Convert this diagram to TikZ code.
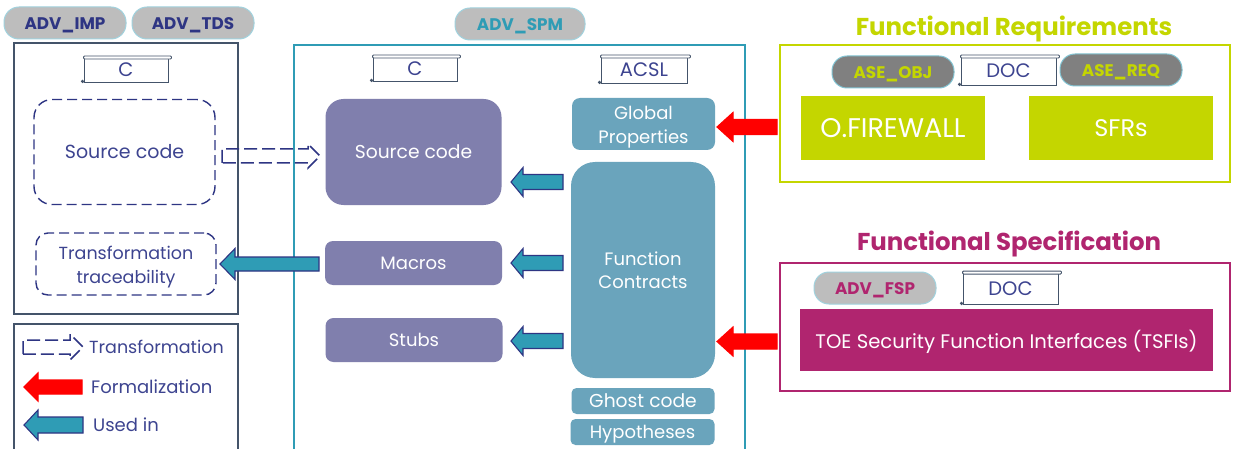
\documentclass[tikz,border=0pt]{standalone}
\usepackage{fontspec}
\setmainfont{Poppins}
\usetikzlibrary{calc}
\definecolor{navy}{HTML}{2E3583}
\definecolor{teal}{HTML}{2F9CB5}
\definecolor{purp}{HTML}{807FAD}
\definecolor{tealb}{HTML}{6AA4BC}
\definecolor{lime}{HTML}{C4D600}
\definecolor{magen}{HTML}{B0256F}
\definecolor{slate}{HTML}{44546A}
\definecolor{textb}{HTML}{3D4490}
\definecolor{pillg}{HTML}{BDBDBD}
\definecolor{pilld}{HTML}{808080}
\newcommand{\dn}[2]{\raisebox{-#1pt}[\height][\depth]{#2}}
\tikzset{
 x=1pt,y=-1pt,
 every node/.style={font=\fontsize{18}{23.5}\selectfont,align=center},
 pill/.style={draw=teal!45!white,line width=1pt,fill=pillg,rounded corners=15pt,minimum width=122pt,minimum height=32pt,inner sep=0pt,font=\bfseries\fontsize{16.8}{18}\selectfont},
 darkpill/.style={pill,fill=pilld,draw=teal!60!white,text=lime},
 solidbox/.style={fill=#1,text=white},
 dash box/.style={draw=navy,line width=1.4pt,dash pattern=on 10pt off 5pt,text=textb},
 dash arrow/.style={navy,line width=1.5pt,dash pattern=on 13pt off 5pt},
 plain/.style={text=textb},
 title/.style={font=\bfseries\fontsize{24.4}{30}\selectfont},
}
\newcommand{\fatarrow}[8]{%
 \path[fill=#7,draw=#8,line width=1.1pt,line join=miter] (#1,#3) -- (#6,#3-#5) -- (#6,#3-#4) -- (#2,#3-#4) -- (#2,#3+#4) -- (#6,#3+#4) -- (#6,#3+#5) -- cycle;
}
\begin{document}
\begin{tikzpicture}
\useasboundingbox (0,0) rectangle (1236,449);
\fill[white] (0,0) rectangle (1236,449);
% frames
\draw[slate,line width=1.2pt] (14,43) rectangle (238,314);
\draw[slate,line width=1.2pt] (14,449) -- (14,324) -- (238,324) -- (238,449);
\draw[teal,line width=1.1pt] (294,449) -- (294,45) -- (745,45) -- (745,449);
\draw[lime,line width=1.2pt] (780,45) rectangle (1230,182);
\draw[magen,line width=1.2pt] (780,263) rectangle (1230,391);
% pills
\node[pill,text=navy] (imp) at (65,23) {\dn{2}{ADV\_IMP}};
\node[pill,text=navy] (tds) at (193,23) {\dn{2}{ADV\_TDS}};
\node[pill,text=teal,minimum width=130pt] (spm) at (520,24) {\dn{2}{ADV\_SPM}};
\node[darkpill] (obj) at (893,72) {\dn{2}{ASE\_OBJ}};
\node[darkpill] (req) at (1121,70) {\dn{2}{ASE\_REQ}};
\node[pill,text=magen] (fsp) at (875,288) {\dn{2}{ADV\_FSP}};
% scrolls
\foreach \a/\b/\c/\d/\t/\n in {84/58/168/82/C/s1,373/57/457/81/C/s2,601/57/687/83/ACSL/s3,961/57/1056/85/DOC/s4,963/273/1058/304/DOC/s5}{
 \node[draw=slate,line width=.9pt,fill=white,inner sep=0pt,text=textb,font=\fontsize{19.5}{23}\selectfont,minimum width={(\c-\a)*1pt},minimum height={(\d-\b)*1pt}] (\n) at ({(\a+\c)/2},{(\b+\d)/2}) {\t};
 \draw[slate,line width=.9pt,fill=white,rounded corners=1pt] (\n.north west) ++(0,-1.5) rectangle ($(\n.north east)+(3,1.5)$);
 \fill[slate] (\n.south west) ++(-1,-1) circle (1.8pt);
}
% dashed boxes
\node[dash box,font=\fontsize{19}{24}\selectfont,rounded corners=18pt,minimum width=181pt,minimum height=105pt] (src) at (124.5,152) {Source code};
\node[dash box,font=\fontsize{17.5}{24}\selectfont,rounded corners=12pt,minimum width=180pt,minimum height=62pt] (tt) at (126,264) {\dn{3}{Transformation}\\\dn{3}{traceability}};
% purple
\node[solidbox=purp,font=\fontsize{18.7}{24}\selectfont,rounded corners=18pt,minimum width=176pt,minimum height=106pt] (sc) at (413.5,152) {Source code};
\node[solidbox=purp,rounded corners=8pt,minimum width=177pt,minimum height=44pt] (mac) at (413.5,263) {Macros};
\node[solidbox=purp,rounded corners=8pt,minimum width=177pt,minimum height=44pt] (stubs) at (414,340) {Stubs};
% teal
\node[solidbox=tealb,rounded corners=8pt,minimum width=143pt,minimum height=52pt,inner sep=0pt] (gp) at (643.5,124) {\dn{3}{Global}\\\dn{3}{Properties}};
\node[solidbox=tealb,rounded corners=24pt,minimum width=144pt,minimum height=216pt] (fc) at (643,270) {Function\\Contracts};
\node[solidbox=tealb,font=\fontsize{18.7}{23}\selectfont,rounded corners=5pt,minimum width=143pt,minimum height=26pt,inner sep=0pt] (gc) at (643,401) {Ghost code};
\node[solidbox=tealb,rounded corners=5pt,minimum width=144pt,minimum height=26pt,inner sep=0pt] (hy) at (642.5,432) {\dn{2}{Hypotheses}};
% lime
\node[title,text=lime] (t1) at (1014,29) {Functional Requirements};
\node[solidbox=lime,font=\fontsize{27}{30}\selectfont,minimum width=184pt,minimum height=64pt] (ofw) at (893,128) {O.FIREWALL};
\node[solidbox=lime,font=\fontsize{24}{30}\selectfont,minimum width=184pt,minimum height=64pt] (sfr) at (1121,128) {SFRs};
\node[title,text=magen] (t2) at (1009,244) {Functional Specification};
\node[solidbox=magen,font=\fontsize{19.6}{22}\selectfont,minimum width=413pt,minimum height=62pt] (tsfi) at (1006.5,340) {\dn{2}{TOE Security Function Interfaces (TSFIs)}};
% arrows
\fatarrow{511}{563}{182}{7.5}{14.5}{523}{teal}{navy}
\fatarrow{511}{563}{263}{7.5}{14.5}{523}{teal}{navy}
\fatarrow{511}{563}{341}{7.5}{14.5}{523}{teal}{navy}
\fatarrow{220}{319}{264}{7}{15.5}{235}{teal}{navy}
\fatarrow{717}{777}{127}{7.5}{14.5}{733}{red}{red}
\fatarrow{717}{777}{341.5}{7.5}{14.5}{733}{red}{red}
% dashed arrow
\draw[dash arrow] (222,163) -- (222,149) -- (308,149) -- (308,144) -- (320,156) -- (308,168) -- (308,163) -- cycle;
% legend
\draw[dash arrow] (23,354) -- (23,340) -- (70,340) -- (70,334) -- (83,347) -- (70,360) -- (70,354) -- cycle;
\node[plain,font=\fontsize{17.5}{23}\selectfont,anchor=west,inner sep=0pt] (l1) at (89,347) {Transformation};
\fatarrow{24}{82}{387}{7}{14}{38}{red}{red}
\node[plain,anchor=west,inner sep=0pt] (l2) at (91,387) {Formalization};
\fatarrow{24}{83}{425}{8}{15}{38}{teal}{navy}
\node[plain,anchor=west,inner sep=0pt] (l3) at (93,425) {Used in};
\end{tikzpicture}
\end{document}
